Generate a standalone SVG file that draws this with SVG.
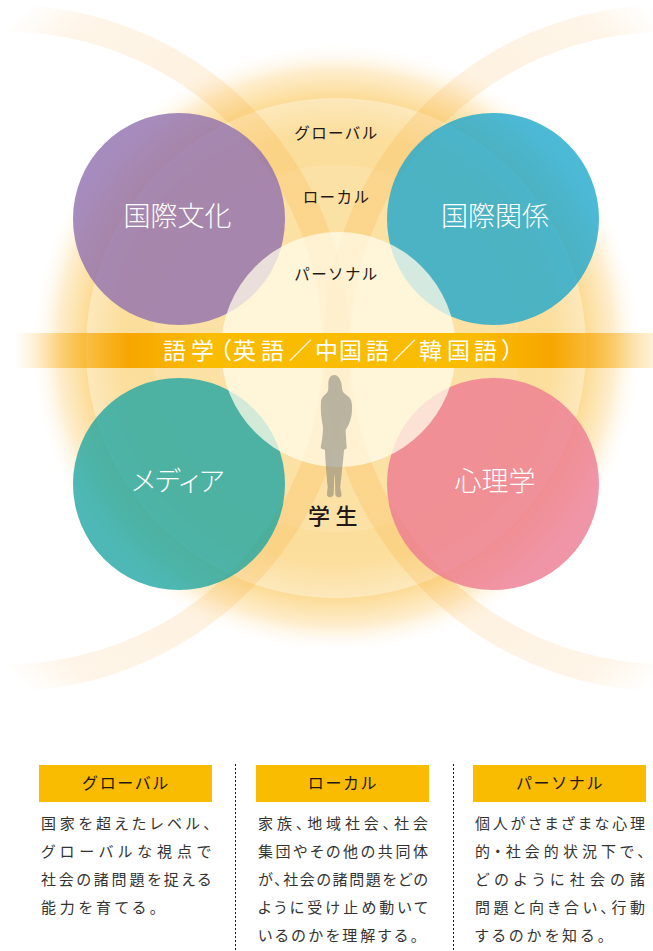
<svg xmlns="http://www.w3.org/2000/svg" width="653" height="951" viewBox="0 0 653 951">
<defs>
<radialGradient id="glow" gradientUnits="userSpaceOnUse" cx="336" cy="348" r="306">
<stop offset="0" stop-color="#fbcb5c"/><stop offset="0.7" stop-color="#fbcc66"/><stop offset="0.82" stop-color="#fcdc98"/><stop offset="0.91" stop-color="#feeecf"/><stop offset="1" stop-color="#fff" stop-opacity="0"/>
</radialGradient>
<radialGradient id="band" gradientUnits="userSpaceOnUse" cx="336.5" cy="348" r="460">
<stop offset="0" stop-color="#f8b040" stop-opacity="0.24"/><stop offset="0.55" stop-color="#f8b040" stop-opacity="0.24"/><stop offset="0.68" stop-color="#f8b551" stop-opacity="0.17"/><stop offset="0.9" stop-color="#f8b551" stop-opacity="0.13"/><stop offset="1" stop-color="#f8b551" stop-opacity="0"/>
</radialGradient>
<linearGradient id="bar" gradientUnits="userSpaceOnUse" x1="15" y1="0" x2="653" y2="0">
<stop offset="0" stop-color="#f7a600" stop-opacity="0"/><stop offset="0.18" stop-color="#f7a600"/><stop offset="0.3" stop-color="#f9bc00"/><stop offset="0.72" stop-color="#f9bc00"/><stop offset="0.84" stop-color="#f7a600"/><stop offset="1" stop-color="#f7a600" stop-opacity="0.15"/>
</linearGradient>
</defs>
<style>
text{font-family:"Noto Sans CJK JP","Noto Sans",sans-serif;fill:#231815}
.big{font-size:27px;font-weight:300;fill:#fff;text-anchor:middle}
.lab{font-size:15.5px;text-anchor:middle;letter-spacing:1.4px}
.hd{font-size:16px;text-anchor:middle;letter-spacing:1.6px}
.body{font-size:15px;font-feature-settings:"palt";fill:#333}
.box{fill:#f9bc00}
.ring{fill:none;stroke-width:27;stroke:url(#band)}
.ov{fill:#fff}
.c{opacity:.8}
.sep{stroke:#231815;stroke-width:1;stroke-dasharray:2 2}
</style>
<g id="glow-bg"><circle cx="336" cy="348" r="306" fill="url(#glow)"/></g>
<g id="level-global"><circle class="ov" cx="336" cy="348" r="250" opacity=".36"/></g>
<g id="level-local"><circle class="ov" cx="336" cy="348.5" r="183.5" opacity=".1"/></g>
<g id="connectors">
<circle class="ring" cx="7" cy="348" r="329.5"/>
<circle class="ring" cx="666" cy="348" r="329.5"/>
</g>
<g id="node-kokusai-bunka"><circle class="c" cx="179" cy="219" r="106" fill="#906fae"/></g>
<g id="node-kokusai-kankei"><circle class="c" cx="493" cy="219" r="106" fill="#1fa7cd"/></g>
<g id="node-media"><circle class="c" cx="179" cy="484" r="106" fill="#20a6a3"/></g>
<g id="node-shinri"><circle class="c" cx="493" cy="484" r="106" fill="#ec7b92"/></g>
<g id="level-personal"><circle cx="338.5" cy="349.5" r="117.5" fill="#fffbe9" opacity=".76"/></g>
<g id="labels-levels">
<text class="lab" x="336.5" y="139">グローバル</text>
<text class="lab" x="336.5" y="203">ローカル</text>
<text class="lab" x="336.5" y="280">パーソナル</text>
</g>
<g id="labels-nodes">
<text class="big" x="177.5" y="226">国際文化</text>
<text class="big" x="495" y="226">国際関係</text>
<text class="big" x="178" y="491" style="font-feature-settings:'palt'">メディア</text>
<text class="big" x="495" y="491">心理学</text>
</g>
<g id="language-bar">
<rect x="15" y="333" width="638" height="35" fill="url(#bar)"/>
<text font-size="23" style="fill:#fff" y="359" x="163 191 209 233 261 289 315 339 366 393 419 447 474 501">語学（英語／中国語／韓国語）</text>
</g>
<g id="student">
<path d="M163 45C150 45 145 58 145 72C145 84 146 92 141 98C132 106 124 112 123 125C121 150 124 175 129 200C130 215 126 240 122 265L135 270C136 300 140 350 143 380C143 392 139 400 142 408C148 414 158 412 161 404C163 385 161 365 164 340C166 365 165 385 166 404C168 412 180 415 184 408C187 400 180 390 181 378C185 345 189 305 192 270L200 265C199 245 197 225 197 210C207 195 215 175 216 150C217 130 214 115 203 108C195 102 187 98 186 85C185 65 178 45 163 45Z" transform="translate(280 360) scale(.3333)" fill="#76756f" opacity=".5"/>
<text x="308" y="524" font-size="22" font-weight="500" letter-spacing="5.5">学生</text>
</g>
<g id="panel-global">
<rect class="box" x="39" y="765" width="173" height="37"/>
<text class="hd" x="126" y="789">グローバル</text>
<text class="body" x="41" y="829" textLength="170">国家を超えたレベル、</text>
<text class="body" x="41" y="857" textLength="170">グローバルな視点で</text>
<text class="body" x="41" y="885" textLength="170">社会の諸問題を捉える</text>
<text class="body" x="41" y="913" textLength="116">能力を育てる。</text>
</g>
<g id="panel-local">
<rect class="box" x="256" y="765" width="173" height="37"/>
<text class="hd" x="343" y="789">ローカル</text>
<text class="body" x="258" y="829" textLength="170">家族、地域社会、社会</text>
<text class="body" x="258" y="857" textLength="170">集団やその他の共同体</text>
<text class="body" x="258" y="885" textLength="170">が、社会の諸問題をどの</text>
<text class="body" x="258" y="913" textLength="170">ように受け止め動いて</text>
<text class="body" x="258" y="941" textLength="160">いるのかを理解する。</text>
</g>
<g id="panel-personal">
<rect class="box" x="473" y="765" width="173" height="37"/>
<text class="hd" x="560" y="789">パーソナル</text>
<text class="body" x="475" y="829" textLength="170">個人がさまざまな心理</text>
<text class="body" x="475" y="857" textLength="170">的・社会的状況下で、</text>
<text class="body" x="475" y="885" textLength="170">どのように社会の諸</text>
<text class="body" x="475" y="913" textLength="170">問題と向き合い、行動</text>
<text class="body" x="475" y="941" textLength="130">するのかを知る。</text>
</g>
<g id="separators">
<line class="sep" x1="235.5" y1="764" x2="235.5" y2="951"/>
<line class="sep" x1="453.5" y1="764" x2="453.5" y2="951"/>
</g>
</svg>
